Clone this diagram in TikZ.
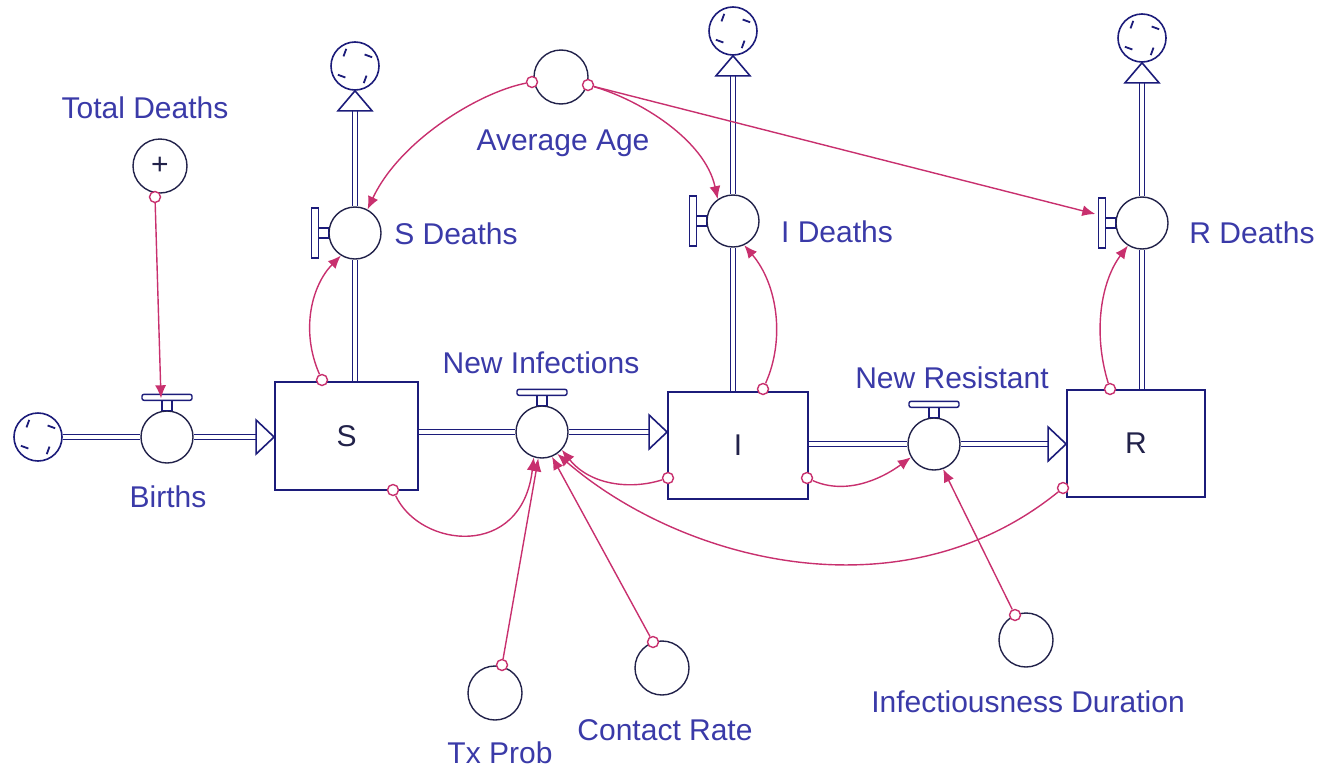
\documentclass[tikz,border=0pt]{standalone}
\usepackage{fontspec}
\setmainfont{Liberation Sans}
\usetikzlibrary{arrows.meta,calc}
\definecolor{navy}{HTML}{1C1C7A}
\definecolor{cline}{HTML}{22224A}
\definecolor{mag}{HTML}{C8306E}
\definecolor{lblue}{HTML}{3A3AA8}
\tikzset{
  flowc/.style={circle, draw=cline, line width=0.7pt, minimum size=26pt, inner sep=0pt, fill=white},
  aux/.style={circle, draw=cline, line width=0.7pt, minimum size=27pt, inner sep=0pt, fill=white},
  cloudc/.style={circle, draw=navy, line width=0.8pt, minimum size=24pt, inner sep=0pt, fill=white},
  stock/.style={rectangle, draw=navy, line width=0.9pt, inner sep=0pt, fill=white, text=cline, font=\fontsize{15}{18}\selectfont},
  lbl/.style={text=lblue, font=\fontsize{15}{18}\selectfont, inner sep=0pt},
  orig/.style={circle, draw=mag, line width=0.7pt, minimum size=5.5pt, inner sep=0pt, fill=white},
  conn/.style={draw=mag, line width=0.7pt, -{Latex[length=6.5pt,width=5.5pt]}},
  pipe/.style={draw=navy, double=white, double distance=2pt, line width=0.7pt},
  hollow/.style={fill=white, draw=navy, line width=0.8pt, line join=miter},
  handle/.style={draw=navy, line width=0.7pt, fill=white}
}
\newcommand\cloudmarks[1]{%
  \foreach \a in {40,130,220,310}
    \draw[navy, line width=0.9pt] ($(#1.center)+(\a:15)$) -- ++(\a+70:8);}
\newcommand\tophandle[1]{%
  \draw[handle] ($(#1.north)+(-5,-10)$) rectangle ($(#1.north)+(5,0)$);
  \draw[handle, rounded corners=1pt] ($(#1.north)+(-25,-16)$) rectangle ($(#1.north)+(25,-10)$);}
\newcommand\lefthandle[1]{%
  \draw[handle] ($(#1.west)+(-10,-5)$) rectangle ($(#1.west)+(0,5)$);
  \draw[handle] ($(#1.west)+(-17,-25)$) rectangle ($(#1.west)+(-10,25)$);}
\newcommand\pipetipright[1]{\filldraw[hollow] (#1) -- ++(-18,-17) -- ++(0,34) -- cycle;}
\newcommand\pipetipup[1]{\filldraw[hollow] (#1) -- ++(-17,20) -- ++(34,0) -- cycle;}
\begin{document}
\begin{tikzpicture}[x=0.5pt, y=-0.5pt]
\useasboundingbox (0,0) rectangle (1320,771);

% stocks
\node[stock, minimum width=71.5pt, minimum height=54pt] (S) at (346.5,436) {S};
\node[stock, minimum width=70pt, minimum height=53.5pt] (I) at (738,445.5) {I};
\node[stock, minimum width=69pt, minimum height=53.5pt] (R) at (1136,443.5) {R};

% clouds
\node[cloudc] (c0) at (38,437) {};
\node[cloudc] (c1) at (355,66) {};
\node[cloudc] (c2) at (733,31) {};
\node[cloudc] (c3) at (1142,38) {};
\foreach \c in {c0,c1,c2,c3} {\cloudmarks{\c}}

% flows (valves)
\node[flowc] (births) at (167,437) {};
\node[flowc] (newinf) at (542,432) {};
\node[flowc] (newres) at (934,444) {};
\node[flowc] (sdeaths) at (355,233) {};
\node[flowc] (ideaths) at (733,221) {};
\node[flowc] (rdeaths) at (1142,223) {};

% pipes: births
\coordinate (tS) at (S.west |- births.center);
\draw[pipe] (c0.east) -- (births.west);
\draw[pipe] (births.east) -- ($(tS)+(-18,0)$);
\pipetipright{tS}
% S -> I
\coordinate (tI) at (I.west |- newinf.center);
\draw[pipe] (S.east |- newinf.center) -- (newinf.west);
\draw[pipe] (newinf.east) -- ($(tI)+(-18,0)$);
\pipetipright{tI}
% I -> R
\coordinate (tR) at (R.west |- newres.center);
\draw[pipe] (I.east |- newres.center) -- (newres.west);
\draw[pipe] (newres.east) -- ($(tR)+(-18,0)$);
\pipetipright{tR}
% deaths
\coordinate (u1) at (c1.south);
\draw[pipe] (S.north -| sdeaths.center) -- (sdeaths.south);
\draw[pipe] (sdeaths.north) -- ($(u1)+(0,20)$);
\pipetipup{u1}
\coordinate (u2) at (c2.south);
\draw[pipe] (I.north -| ideaths.center) -- (ideaths.south);
\draw[pipe] (ideaths.north) -- ($(u2)+(0,20)$);
\pipetipup{u2}
\coordinate (u3) at (c3.south);
\draw[pipe] (R.north -| rdeaths.center) -- (rdeaths.south);
\draw[pipe] (rdeaths.north) -- ($(u3)+(0,20)$);
\pipetipup{u3}

% handles
\tophandle{births}
\tophandle{newinf}
\tophandle{newres}
\lefthandle{sdeaths}
\lefthandle{ideaths}
\lefthandle{rdeaths}

% auxiliaries
\node[aux] (tdeaths) at (160,166) {\textcolor{cline}{\fontsize{15}{18}\selectfont +}};
\node[aux] (avgage) at (561,77) {};
\node[aux] (txprob) at (495,693) {};
\node[aux] (contact) at (662,668) {};
\node[aux] (infdur) at (1026,640) {};

% labels
\node[lbl] at (145,108) {Total Deaths};
\node[lbl] at (563,143) {Average Age};
\node[lbl] at (456,234) {S Deaths};
\node[lbl] at (837,232) {I Deaths};
\node[lbl] at (1252,233) {R Deaths};
\node[lbl] at (541,363) {New Infections};
\node[lbl] at (952,378) {New Resistant};
\node[lbl] at (168,497) {Births};
\node[lbl] at (500,753) {Tx Prob};
\node[lbl] at (665,730) {Contact Rate};
\node[lbl] at (1028,702) {Infectiousness Duration};

% connector origins
\node[orig] (oTD) at (155,197) {};
\node[orig] (oAL) at (532,82) {};
\node[orig] (oAR) at (588,85) {};
\node[orig] (oSt) at (322,380) {};
\node[orig] (oSb) at (393,490) {};
\node[orig] (oIt) at (763,389) {};
\node[orig] (oIl) at (668,478) {};
\node[orig] (oIr) at (807,478) {};
\node[orig] (oRt) at (1110,389) {};
\node[orig] (oRb) at (1063,488) {};
\node[orig] (oTx) at (502,665) {};
\node[orig] (oCR) at (653,642) {};
\node[orig] (oID) at (1015,615) {};

% connectors
\draw[conn] (oTD) -- ($(births.north)+(-6,-12)$);
\draw[conn] (oAL) .. controls (480,92) and (400,140) .. (sdeaths.62);
\draw[conn] (oAR) .. controls (640,100) and (705,140) .. (ideaths.125);
\draw[conn] (oAR) -- ($(rdeaths.west)+(-20,-9)$);
\draw[conn] (oSt) .. controls (300,330) and (312,285) .. (sdeaths.238);
\draw[conn] (oIt) .. controls (785,340) and (778,285) .. (ideaths.295);
\draw[conn] (oRt) .. controls (1092,330) and (1102,280) .. (rdeaths.238);
\draw[conn] (oSb) .. controls (420,548) and (522,560) .. (newinf.252);
\draw[conn] (oIl) .. controls (630,490) and (590,485) .. (newinf.318);
\draw[conn] (oRb) .. controls (900,620) and (680,560) .. (newinf.305);
\draw[conn] (oTx) -- (newinf.262);
\draw[conn] (oCR) -- (newinf.292);
\draw[conn] (oIr) .. controls (845,495) and (880,480) .. (newres.210);
\draw[conn] (oID) -- (newres.290);
\end{tikzpicture}
\end{document}
